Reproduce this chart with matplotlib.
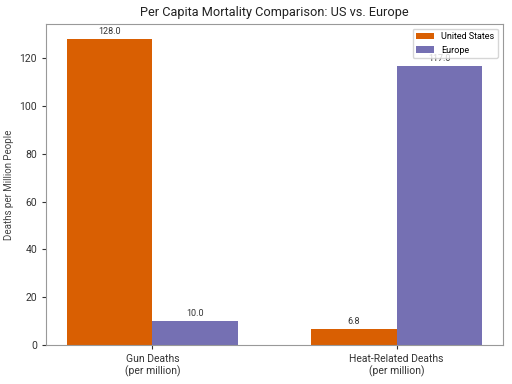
import numpy as np
import matplotlib.pyplot as plt

plt.rcParams['font.family'] = ['Roboto', 'DejaVu Sans']

categories = ['Gun Deaths\n(per million)', 'Heat-Related Deaths\n(per million)']
us_values = [128.0, 6.8]
europe_values = [10.0, 117.0]
series_names = ['United States', 'Europe']

x = np.arange(len(categories))
width = 0.35

fig, ax = plt.subplots(figsize=(5.12, 3.84), dpi=100)
fig.subplots_adjust(left=0.09, right=0.982, top=0.9375, bottom=0.102)

b1 = ax.bar(x - width / 2, us_values, width, color='#D95F02', label=series_names[0])
b2 = ax.bar(x + width / 2, europe_values, width, color='#7570B3', label=series_names[1])

for bars in (b1, b2):
    for rect in bars:
        h = rect.get_height()
        ax.annotate(f'{h:.1f}', xy=(rect.get_x() + rect.get_width() / 2, h),
                    xytext=(0, 2), textcoords='offset points',
                    ha='center', va='bottom', fontsize=6.5, color='#333333')

ax.set_title('Per Capita Mortality Comparison: US vs. Europe', fontsize=9.2, color='#222222')
ax.set_ylabel('Deaths per Million People', fontsize=7, color='#444444')
ax.set_xticks(x)
ax.set_xticklabels(categories)
ax.tick_params(axis='both', labelsize=7.5, colors='#333333', length=3)
for s in ax.spines.values():
    s.set_color('#999999')

ax.legend(loc='upper right', fontsize=6.5, frameon=True)

fig.savefig('out.png', dpi=100)
